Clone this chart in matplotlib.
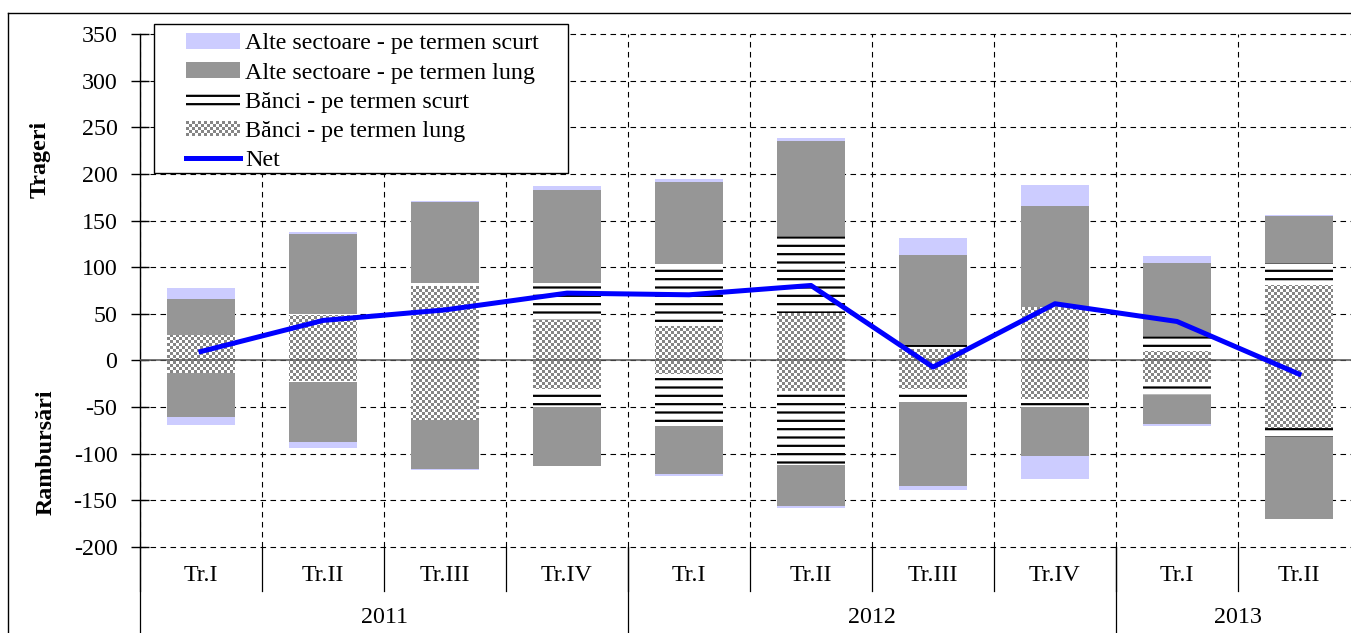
import numpy as np
import matplotlib
matplotlib.use("Agg")
import matplotlib.pyplot as plt
from matplotlib.patches import Rectangle
from matplotlib.lines import Line2D
from matplotlib.path import Path
from matplotlib.colors import ListedColormap
from matplotlib.legend_handler import HandlerBase

plt.rcParams["font.family"] = ["Liberation Serif", "DejaVu Serif"]
plt.rcParams["hatch.linewidth"] = 1.6
plt.rcParams["axes.unicode_minus"] = False

quarters = ["Tr.I", "Tr.II", "Tr.III", "Tr.IV", "Tr.I", "Tr.II", "Tr.III", "Tr.IV", "Tr.I", "Tr.II"]
years = ["2011", "2012", "2013"]
quarters_per_year = [4, 4, 2]

# trageri (pozitive)
banci_lung_tr = [27.2, 48.3, 79.3, 42.9, 36.5, 50.8, 12.5, 56.8, 9.7, 80.4]
banci_scurt_tr = [0.0, 1.8, 3.3, 39.7, 67.2, 82.9, 3.6, 1.0, 16.0, 24.3]
alte_lung_tr = [39.0, 85.7, 87.6, 100.4, 87.9, 101.9, 97.2, 108.1, 79.0, 50.4]
alte_scurt_tr = [11.7, 1.4, 1.0, 3.6, 2.9, 2.8, 18.3, 22.5, 7.6, 1.1]
# rambursari (negative)
banci_lung_rb = [-13.9, -21.8, -63.6, -30.3, -14.3, -33.2, -30.7, -41.1, -23.2, -72.5]
banci_scurt_rb = [0.0, -1.0, 0.0, -19.7, -55.7, -79.4, -13.9, -8.9, -13.6, -9.7]
alte_lung_rb = [-46.5, -65.1, -52.5, -62.9, -51.5, -43.2, -89.7, -52.2, -31.1, -87.5]
alte_scurt_rb = [-8.5, -6.4, -0.9, -0.6, -2.1, -2.9, -4.3, -25.4, -2.8, -0.8]
net = [9.6, 42.9, 54.2, 72.2, 70.4, 80.4, -7.1, 60.8, 41.8, -14.6]

W, H = 1351, 633
fig = plt.figure(figsize=(W / 100, H / 100), dpi=100)
ax = fig.add_axes([140 / W, 1 - 547 / H, 1220 / W, 513 / H])

x = np.arange(len(quarters))
bw = 0.56
fs = 17.3
c_light = "#ccccff"
c_gray = "#969696"

def stack(ax, layers, hatch_list, colors):
    bottom = np.zeros(len(x))
    out = []
    for vals, h, c in zip(layers, hatch_list, colors):
        vals = np.array(vals)
        if h:
            b = ax.bar(x, vals, bw, bottom=bottom, color="white", edgecolor="black",
                       hatch=h, linewidth=0, zorder=2)
        else:
            b = ax.bar(x, vals, bw, bottom=bottom, color=c, linewidth=0, zorder=2)
        out.append(b)
        bottom = bottom + vals
    return out

pos = stack(ax, [banci_lung_tr, banci_scurt_tr, alte_lung_tr, alte_scurt_tr],
            [None, "--", None, None], ["white", None, c_gray, c_light])
neg = stack(ax, [banci_lung_rb, banci_scurt_rb, alte_lung_rb, alte_scurt_rb],
            [None, "--", None, None], ["white", None, c_gray, c_light])

# checkerboard texture for "Banci - pe termen lung"
cell = 3.0
nx = int(1220 / cell) + 2
ny = int(513 / cell)
checker = (np.add.outer(np.arange(ny), np.arange(nx)) % 2).astype(float)
x_per_px = 10 / 1220
img = ax.imshow(checker, extent=(-0.5, -0.5 + nx * cell * x_per_px, -200, 350),
                cmap=ListedColormap(["#858585", "white"]), interpolation="nearest",
                aspect="auto", origin="lower", zorder=2.2)
paths = [p.get_patch_transform().transform_path(p.get_path())
         for p in list(pos[0].patches) + list(neg[0].patches)]
img.set_clip_path(Path.make_compound_path(*paths), ax.transData)

ax.plot(x, net, color="#0000ff", lw=3.6, zorder=4, solid_joinstyle="round")
ax.axhline(0, color="#555555", lw=1.1, zorder=3)

ax.set_xlim(-0.5, len(quarters) - 0.5)
ax.set_ylim(-200, 350)
ax.set_yticks(np.arange(-200, 351, 50))
ax.set_xticks([])
ax.set_xticks(np.arange(len(quarters) + 1) - 0.5, minor=True)
ax.tick_params(axis="y", direction="inout", length=13, width=1, pad=9.7, labelsize=fs)
ax.tick_params(axis="x", which="both", length=0, labelbottom=False)
ax.set_axisbelow(True)
ax.yaxis.grid(True, color="black", lw=0.8, ls=(0, (5, 4)))
ax.xaxis.grid(True, which="minor", color="black", lw=0.8, ls=(0, (5, 4)))
for gl in ax.yaxis.get_gridlines():
    gl.set_clip_on(False)
for s in ["top", "right", "bottom"]:
    ax.spines[s].set_visible(False)
ax.spines["left"].set_linewidth(1)

# category axis below
tr = ax.get_xaxis_transform()
for b in np.arange(len(quarters) + 1) - 0.5:
    ax.plot([b, b], [0, -0.0858], transform=tr, color="black", lw=0.9, clip_on=False)
for q, lab in zip(x, quarters):
    ax.text(q, -0.0565, lab, transform=tr, ha="center", va="center", fontsize=fs)
start = 0
for yr, n in zip(years, quarters_per_year):
    ax.plot([start - 0.5, start - 0.5], [0, -0.25], transform=tr, color="black",
            lw=0.9, clip_on=False)
    ax.text(start + (n - 1) / 2, -0.1384, yr, transform=tr, ha="center", va="center",
            fontsize=fs)
    start += n

fig.text(40 / W, 1 - 159 / H, "Trageri", rotation=90, ha="center", va="center",
         fontsize=fs, fontweight="bold")
fig.text(46 / W, 1 - 452 / H, "Rambursări", rotation=90, ha="center", va="center",
         fontsize=fs, fontweight="bold")

# outer frame
fig.add_artist(Line2D([8 / W, 8 / W], [1 - 13 / H, 0], color="black", lw=1))
fig.add_artist(Line2D([8 / W, 1], [1 - 13 / H, 1 - 13 / H], color="black", lw=1))

# legend
class CheckerHandler(HandlerBase):
    def create_artists(self, legend, orig_handle, xdescent, ydescent, width, height,
                       fontsize, trans):
        c = 2.16
        arts = [Rectangle((-xdescent, -ydescent), width, height, facecolor="white",
                          edgecolor="none", transform=trans)]
        for i in range(int(width / c)):
            for j in range(int(height / c)):
                if (i + j) % 2 == 0:
                    arts.append(Rectangle((-xdescent + i * c, -ydescent + j * c), c, c,
                                          facecolor="#858585", edgecolor="none",
                                          transform=trans))
        return arts

box = Rectangle((154 / W, 1 - 173 / H), 414 / W, 149 / H, transform=fig.transFigure,
                facecolor="white", edgecolor="black", lw=1, zorder=4.5, clip_on=False)
ax.add_artist(box)
net_handle = Line2D([], [], color="#0000ff", lw=3.6)
leg = ax.legend([pos[3], pos[2], pos[1], pos[0], net_handle],
                ["Alte sectoare - pe termen scurt", "Alte sectoare - pe termen lung",
                 "Bănci - pe termen scurt", "Bănci - pe termen lung", "Net"],
                loc="upper left", bbox_to_anchor=(186 / W, 1 - 33 / H),
                bbox_transform=fig.transFigure, frameon=False, borderpad=0,
                borderaxespad=0, fontsize=fs, handlelength=2.25, handleheight=0.63,
                handletextpad=0.2, labelspacing=0.33,
                handler_map={pos[0]: CheckerHandler()})
leg.set_zorder(5)

fig.savefig("out.png", dpi=100)
